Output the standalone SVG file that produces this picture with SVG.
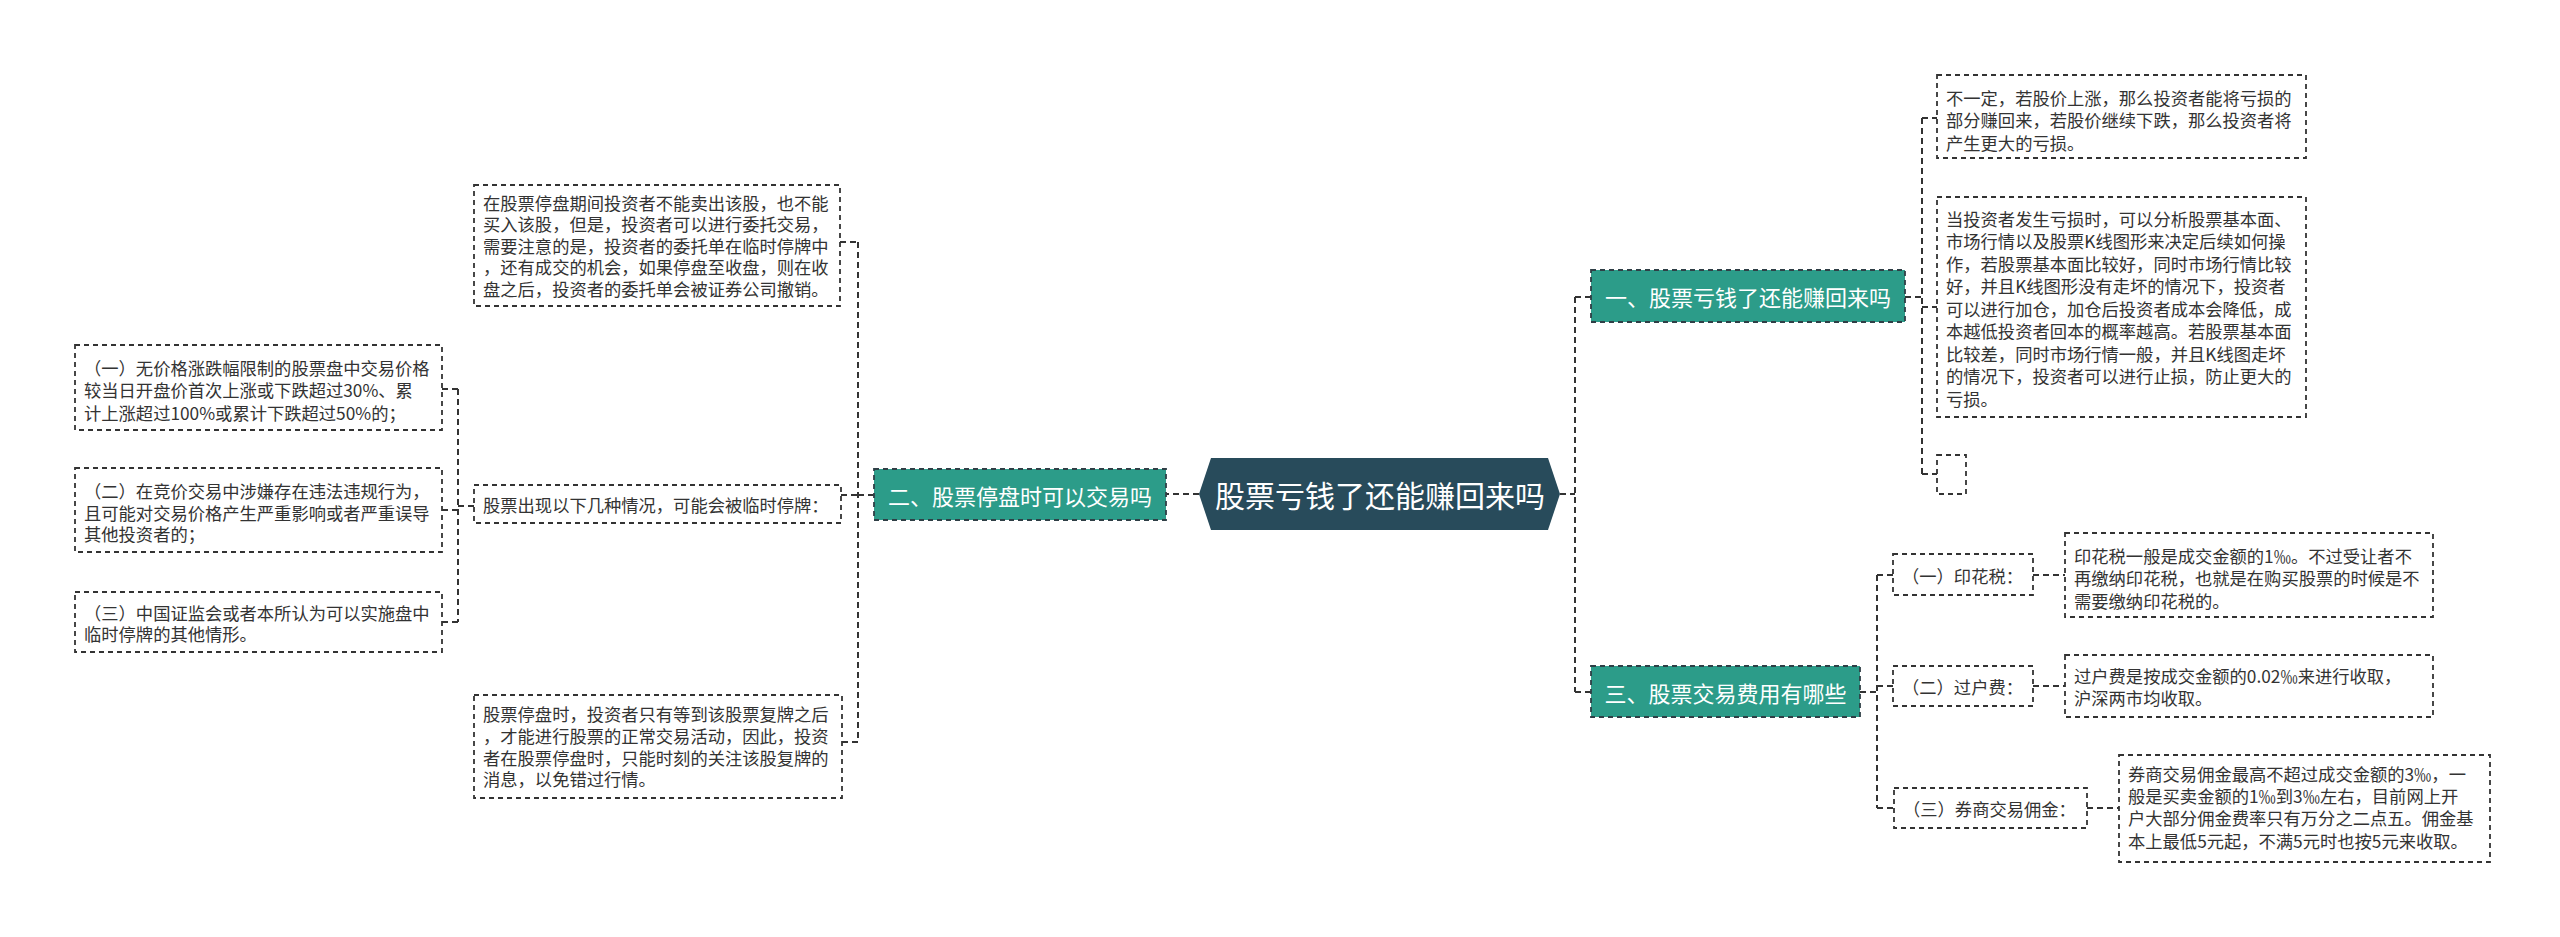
<svg xmlns="http://www.w3.org/2000/svg" width="2560" height="937" viewBox="0 0 2560 937">
<style>
.bg{fill:#ffffff}
.leaf{fill:#ffffff;stroke:#333333;stroke-width:1.8;stroke-dasharray:5 4}
.br{fill:#2c9c89;stroke:#2f3f46;stroke-width:1.8;stroke-dasharray:5 4}
.root{fill:#284b5b}
.t{font-family:"Noto Sans CJK SC","Noto Sans",sans-serif;font-size:17.3px;fill:#333333;dominant-baseline:central}
.tb{font-family:"Noto Sans CJK SC","Noto Sans",sans-serif;font-size:22px;fill:#ffffff;dominant-baseline:central;text-anchor:middle}
.tr{font-family:"Noto Sans CJK SC","Noto Sans",sans-serif;font-size:30px;fill:#ffffff;dominant-baseline:central;text-anchor:middle}
.c{fill:none;stroke:#333333;stroke-width:2;stroke-dasharray:6 4}
</style>
<rect class="bg" x="0" y="0" width="2560" height="937"/>
<g id="connectors">
<path class="c" d="M1199 494 H1166"/>
<path class="c" d="M874 495 H858"/>
<path class="c" d="M858 242 V742"/>
<path class="c" d="M840 242 H858"/>
<path class="c" d="M841 495 H858"/>
<path class="c" d="M842 742 H858"/>
<path class="c" d="M474 506 H458"/>
<path class="c" d="M458 389 V622"/>
<path class="c" d="M442 389 H458"/>
<path class="c" d="M442 510 H458"/>
<path class="c" d="M442 622 H458"/>
<path class="c" d="M1560 494 H1575"/>
<path class="c" d="M1575 297 V692"/>
<path class="c" d="M1575 297 H1591"/>
<path class="c" d="M1575 692 H1591"/>
<path class="c" d="M1905 297 H1922"/>
<path class="c" d="M1922 118 V474"/>
<path class="c" d="M1922 118 H1937"/>
<path class="c" d="M1922 307 H1937"/>
<path class="c" d="M1922 474 H1937"/>
<path class="c" d="M1860 692 H1877"/>
<path class="c" d="M1877 575 V808"/>
<path class="c" d="M1877 575 H1893"/>
<path class="c" d="M1877 686 H1893"/>
<path class="c" d="M1877 808 H1894"/>
<path class="c" d="M2033 575 H2065"/>
<path class="c" d="M2033 686 H2065"/>
<path class="c" d="M2087 808 H2119"/>
</g>
<g id="root">
<polygon class="root" points="1199,494 1211,458 1548,458 1560,494 1548,530 1211,530"/>
<text class="tr" x="1380" y="494">股票亏钱了还能赚回来吗</text>
</g>
<g id="branch2">
<rect class="br" x="874" y="469" width="292" height="51"/>
<text class="tb" x="1020" y="494.5">二、股票停盘时可以交易吗</text>
</g>
<g id="branch1">
<rect class="br" x="1591" y="270" width="314" height="52"/>
<text class="tb" x="1748" y="296">一、股票亏钱了还能赚回来吗</text>
</g>
<g id="branch3">
<rect class="br" x="1591" y="666" width="269" height="51"/>
<text class="tb" x="1725.5" y="691.5">三、股票交易费用有哪些</text>
</g>
<g id="n-l-top">
<rect class="leaf" x="474" y="185" width="366" height="121"/>
<text class="t" x="483" y="202">在股票停盘期间投资者不能卖出该股，也不能</text>
<text class="t" x="483" y="223.5">买入该股，但是，投资者可以进行委托交易，</text>
<text class="t" x="483" y="245">需要注意的是，投资者的委托单在临时停牌中</text>
<text class="t" x="483" y="266.5">，还有成交的机会，如果停盘至收盘，则在收</text>
<text class="t" x="483" y="288">盘之后，投资者的委托单会被证券公司撤销。</text>
</g>
<g id="n-l-mid">
<rect class="leaf" x="474" y="485" width="367" height="38"/>
<text class="t" x="483" y="504">股票出现以下几种情况，可能会被临时停牌：</text>
</g>
<g id="n-l-bot">
<rect class="leaf" x="474" y="695" width="368" height="103"/>
<text class="t" x="483" y="713">股票停盘时，投资者只有等到该股票复牌之后</text>
<text class="t" x="483" y="735">，才能进行股票的正常交易活动，因此，投资</text>
<text class="t" x="483" y="757">者在股票停盘时，只能时刻的关注该股复牌的</text>
<text class="t" x="483" y="778">消息，以免错过行情。</text>
</g>
<g id="n-ll-1">
<rect class="leaf" x="75" y="345" width="367" height="85"/>
<text class="t" x="84" y="367">（一）无价格涨跌幅限制的股票盘中交易价格</text>
<text class="t" x="84" y="389.5">较当日开盘价首次上涨或下跌超过30%、累</text>
<text class="t" x="84" y="412">计上涨超过100%或累计下跌超过50%的；</text>
</g>
<g id="n-ll-2">
<rect class="leaf" x="75" y="468" width="367" height="84"/>
<text class="t" x="84" y="490">（二）在竞价交易中涉嫌存在违法违规行为，</text>
<text class="t" x="84" y="512">且可能对交易价格产生严重影响或者严重误导</text>
<text class="t" x="84" y="533">其他投资者的；</text>
</g>
<g id="n-ll-3">
<rect class="leaf" x="75" y="592" width="367" height="60"/>
<text class="t" x="84" y="612">（三）中国证监会或者本所认为可以实施盘中</text>
<text class="t" x="84" y="633">临时停牌的其他情形。</text>
</g>
<g id="n-r1-a">
<rect class="leaf" x="1937" y="75" width="369" height="83"/>
<text class="t" x="1946" y="97">不一定，若股价上涨，那么投资者能将亏损的</text>
<text class="t" x="1946" y="119.5">部分赚回来，若股价继续下跌，那么投资者将</text>
<text class="t" x="1946" y="142">产生更大的亏损。</text>
</g>
<g id="n-r1-b">
<rect class="leaf" x="1937" y="197" width="369" height="220"/>
<text class="t" x="1946" y="218">当投资者发生亏损时，可以分析股票基本面、</text>
<text class="t" x="1946" y="240.5">市场行情以及股票K线图形来决定后续如何操</text>
<text class="t" x="1946" y="263">作，若股票基本面比较好，同时市场行情比较</text>
<text class="t" x="1946" y="285.5">好，并且K线图形没有走坏的情况下，投资者</text>
<text class="t" x="1946" y="308">可以进行加仓，加仓后投资者成本会降低，成</text>
<text class="t" x="1946" y="330.5">本越低投资者回本的概率越高。若股票基本面</text>
<text class="t" x="1946" y="353">比较差，同时市场行情一般，并且K线图走坏</text>
<text class="t" x="1946" y="375.5">的情况下，投资者可以进行止损，防止更大的</text>
<text class="t" x="1946" y="398">亏损。</text>
</g>
<g id="n-r1-c">
<rect class="leaf" x="1937" y="455" width="29" height="39"/>
</g>
<g id="n-r3-1">
<rect class="leaf" x="1893" y="554" width="140" height="41"/>
<text class="t" x="1902" y="575">（一）印花税：</text>
</g>
<g id="n-r3-2">
<rect class="leaf" x="1893" y="666" width="140" height="40"/>
<text class="t" x="1902" y="686">（二）过户费：</text>
</g>
<g id="n-r3-3">
<rect class="leaf" x="1894" y="788" width="193" height="40"/>
<text class="t" x="1903" y="808">（三）券商交易佣金：</text>
</g>
<g id="n-r3-1d">
<rect class="leaf" x="2065" y="533" width="368" height="84"/>
<text class="t" x="2074" y="555">印花税一般是成交金额的1‰。不过受让者不</text>
<text class="t" x="2074" y="577.5">再缴纳印花税，也就是在购买股票的时候是不</text>
<text class="t" x="2074" y="600">需要缴纳印花税的。</text>
</g>
<g id="n-r3-2d">
<rect class="leaf" x="2065" y="655" width="368" height="62"/>
<text class="t" x="2074" y="675">过户费是按成交金额的0.02‰来进行收取，</text>
<text class="t" x="2074" y="697.5">沪深两市均收取。</text>
</g>
<g id="n-r3-3d">
<rect class="leaf" x="2119" y="755" width="371" height="107"/>
<text class="t" x="2128" y="773">券商交易佣金最高不超过成交金额的3‰，一</text>
<text class="t" x="2128" y="795">般是买卖金额的1‰到3‰左右，目前网上开</text>
<text class="t" x="2128" y="817">户大部分佣金费率只有万分之二点五。佣金基</text>
<text class="t" x="2128" y="840">本上最低5元起，不满5元时也按5元来收取。</text>
</g>
</svg>
